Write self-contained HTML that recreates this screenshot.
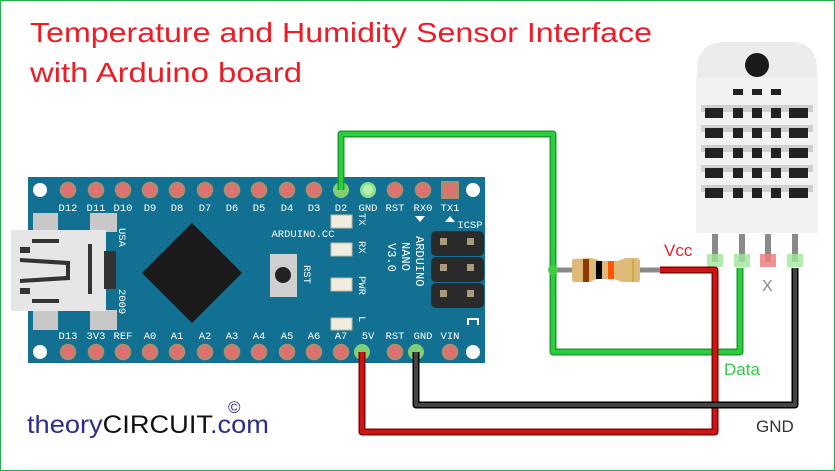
<!DOCTYPE html>
<html><head><meta charset="utf-8"><style>
html,body{margin:0;padding:0;background:#fff}
svg{display:block}
</style></head><body>
<svg width="835" height="471" viewBox="0 0 835 471" xmlns="http://www.w3.org/2000/svg" font-family="'Liberation Sans', sans-serif">
<rect x="0.5" y="0.5" width="834" height="470" fill="#fff" stroke="#22b04b" stroke-width="1"/>
<text x="30" y="42" font-size="28" fill="#ee1c24" textLength="622" lengthAdjust="spacingAndGlyphs">Temperature and Humidity Sensor Interface</text>
<text x="30" y="82" font-size="28" fill="#ee1c24" textLength="272" lengthAdjust="spacingAndGlyphs">with Arduino board</text>

<!-- Board -->
<rect x="28" y="177" width="457" height="186" fill="#127192"/>
<g fill="#fff"><circle cx="40" cy="190" r="7"/><circle cx="473" cy="190" r="7"/><circle cx="40" cy="352" r="7"/><circle cx="473" cy="352" r="7"/></g>
<g fill="#e0706f" stroke="#b58a6a" stroke-width="2.5">
<circle cx="68" cy="190" r="7"/><circle cx="96" cy="190" r="7"/><circle cx="123" cy="190" r="7"/><circle cx="150" cy="190" r="7"/><circle cx="177" cy="190" r="7"/><circle cx="205" cy="190" r="7"/><circle cx="232" cy="190" r="7"/><circle cx="259" cy="190" r="7"/><circle cx="287" cy="190" r="7"/><circle cx="314" cy="190" r="7"/><circle cx="395" cy="190" r="7"/><circle cx="423" cy="190" r="7"/>
<circle cx="68" cy="352" r="7"/><circle cx="96" cy="352" r="7"/><circle cx="123" cy="352" r="7"/><circle cx="150" cy="352" r="7"/><circle cx="177" cy="352" r="7"/><circle cx="205" cy="352" r="7"/><circle cx="232" cy="352" r="7"/><circle cx="259" cy="352" r="7"/><circle cx="287" cy="352" r="7"/><circle cx="314" cy="352" r="7"/><circle cx="341" cy="352" r="7"/><circle cx="395" cy="352" r="7"/><circle cx="450" cy="352" r="7"/>
</g>
<rect x="441" y="181" width="18" height="18" fill="#b5886a"/><circle cx="450" cy="190" r="6" fill="#e0706f"/>
<circle cx="368" cy="190" r="8" fill="#8fe08a"/><circle cx="368" cy="190" r="5" fill="#b7f0b2"/>
<circle cx="341" cy="190" r="8" fill="#7fd070"/>
<circle cx="362" cy="352" r="8" fill="#7fd070"/><circle cx="416" cy="352" r="8" fill="#7fd070"/>
<g font-family="'Liberation Mono', monospace" font-size="10.5" fill="#fff" text-anchor="middle">
<text x="68" y="211">D12</text><text x="96" y="211">D11</text><text x="123" y="211">D10</text><text x="150" y="211">D9</text><text x="177" y="211">D8</text><text x="205" y="211">D7</text><text x="232" y="211">D6</text><text x="259" y="211">D5</text><text x="287" y="211">D4</text><text x="314" y="211">D3</text><text x="341" y="211">D2</text><text x="368" y="211">GND</text><text x="395" y="211">RST</text><text x="423" y="211">RX0</text><text x="450" y="211">TX1</text>
<text x="68" y="339">D13</text><text x="96" y="339">3V3</text><text x="123" y="339">REF</text><text x="150" y="339">A0</text><text x="177" y="339">A1</text><text x="205" y="339">A2</text><text x="232" y="339">A3</text><text x="259" y="339">A4</text><text x="287" y="339">A5</text><text x="314" y="339">A6</text><text x="341" y="339">A7</text><text x="368" y="339">5V</text><text x="395" y="339">RST</text><text x="423" y="339">GND</text><text x="450" y="339">VIN</text>
<text x="303" y="237">ARDUINO.CC</text>
<text x="470" y="228">ICSP</text>
</g>
<polygon points="415,216 425,216 420,222" fill="#fff"/><polygon points="445,222 455,222 450,216" fill="#fff"/>
<g font-family="'Liberation Mono', monospace" font-size="10.5" fill="#fff">
<text transform="translate(119,228) rotate(90)">USA</text>
<text transform="translate(119,289) rotate(90)">2009</text>
<text transform="translate(304,265) rotate(90)">RST</text>
<text transform="translate(359,213) rotate(90)">TX</text>
<text transform="translate(359,241) rotate(90)">RX</text>
<text transform="translate(359,276) rotate(90)">PWR</text>
<text transform="translate(359,316) rotate(90)">L</text>
<text transform="translate(416,236) rotate(90)" font-size="12">ARDUINO</text>
<text transform="translate(402,242) rotate(90)" font-size="12">NANO</text>
<text transform="translate(388,243) rotate(90)" font-size="12">V3.0</text>
</g>
<path d="M468 325 v-6 h10 v6" stroke="#fff" stroke-width="2" fill="none"/>
<!-- USB -->
<g fill="#c8c8c8"><rect x="33" y="213" width="25" height="19"/><rect x="90" y="213" width="27" height="19"/><rect x="33" y="310" width="25" height="20"/><rect x="90" y="310" width="27" height="20"/></g>
<rect x="11" y="230" width="95" height="81" fill="#e6e6e6"/>
<g fill="#333"><rect x="32" y="239" width="27" height="4"/><rect x="32" y="299" width="27" height="4"/><rect x="88" y="244" width="4" height="50"/><rect x="104" y="251" width="12" height="38"/>
<polygon points="20,258 70,261 70,280 20,283 20,279 66,276 66,265 20,262"/><rect x="20" y="247" width="10" height="6"/><rect x="20" y="288" width="10" height="6"/></g>
<!-- chip -->
<polygon points="192,223 242,273 192,323 142,273" fill="#1a1a1a"/>
<rect x="270" y="254" width="27" height="43" fill="#cfcfcf"/><circle cx="283" cy="275" r="8" fill="#222"/>
<g fill="#f0ede0" stroke="#c8b89a"><rect x="331" y="215" width="21" height="13"/><rect x="331" y="243" width="21" height="13"/><rect x="331" y="278" width="21" height="13"/><rect x="331" y="318" width="21" height="12"/></g>
<g fill="#2a2a2a"><rect x="431" y="231" width="53" height="25" rx="5"/><rect x="431" y="257" width="53" height="25" rx="5"/><rect x="431" y="283" width="53" height="25" rx="5"/></g>
<g fill="#a89a7a"><rect x="440" y="238" width="7" height="7"/><rect x="467" y="238" width="7" height="7"/><rect x="440" y="264" width="7" height="7"/><rect x="467" y="264" width="7" height="7"/><rect x="440" y="290" width="7" height="7"/><rect x="467" y="290" width="7" height="7"/></g>

<!-- Sensor -->
<path d="M697 70 Q697 42 725 42 L790 42 Q817 42 817 70 L817 233 L697 233 Z" fill="#ececec"/>
<rect x="696" y="78" width="122" height="155" fill="#f2f2f2"/>
<circle cx="757" cy="65" r="12" fill="#1a1a1a"/>
<g fill="#d0d0d0"><rect x="701" y="105" width="112" height="7"/><rect x="701" y="125" width="112" height="7"/><rect x="701" y="145" width="112" height="7"/><rect x="701" y="165" width="112" height="7"/><rect x="701" y="185" width="112" height="7"/></g>
<g fill="#222">
<rect x="733" y="89" width="10" height="6"/><rect x="752" y="89" width="10" height="6"/><rect x="771" y="89" width="10" height="6"/>
<rect x="705" y="108" width="18" height="10"/><rect x="733" y="108" width="10" height="10"/><rect x="752" y="108" width="10" height="10"/><rect x="771" y="108" width="10" height="10"/><rect x="789" y="108" width="19" height="10"/>
<rect x="705" y="128" width="18" height="10"/><rect x="733" y="128" width="10" height="10"/><rect x="752" y="128" width="10" height="10"/><rect x="771" y="128" width="10" height="10"/><rect x="789" y="128" width="19" height="10"/>
<rect x="705" y="148" width="18" height="10"/><rect x="733" y="148" width="10" height="10"/><rect x="752" y="148" width="10" height="10"/><rect x="771" y="148" width="10" height="10"/><rect x="789" y="148" width="19" height="10"/>
<rect x="705" y="168" width="18" height="10"/><rect x="733" y="168" width="10" height="10"/><rect x="752" y="168" width="10" height="10"/><rect x="771" y="168" width="10" height="10"/><rect x="789" y="168" width="19" height="10"/>
<rect x="705" y="188" width="18" height="10"/><rect x="733" y="188" width="10" height="10"/><rect x="752" y="188" width="10" height="10"/><rect x="771" y="188" width="10" height="10"/><rect x="789" y="188" width="19" height="10"/>
</g>
<g fill="#8a8a8a"><rect x="712" y="234" width="6" height="28"/><rect x="739" y="234" width="6" height="28"/><rect x="765" y="234" width="6" height="28"/><rect x="792" y="234" width="6" height="28"/></g>
<g fill="#9ee89a" opacity="0.8"><rect x="707" y="254" width="16" height="13"/><rect x="734" y="254" width="16" height="13"/><rect x="787" y="254" width="16" height="13"/></g>
<rect x="760" y="254" width="16" height="13" fill="#f08080" opacity="0.85"/>

<!-- wires -->
<polyline points="341,190 341,134 553,134 553,352 740,352 740,268" fill="none" stroke="#1a9e2a" stroke-width="7" stroke-linejoin="round"/>
<polyline points="341,190 341,134 553,134 553,352 740,352 740,268" fill="none" stroke="#2ecc40" stroke-width="4" stroke-linejoin="round"/>
<line x1="553" y1="270" x2="575" y2="270" stroke="#8a8a8a" stroke-width="5"/>
<line x1="638" y1="270" x2="660" y2="270" stroke="#8a8a8a" stroke-width="5"/>
<circle cx="553" cy="270" r="5" fill="#40d040"/>
<polyline points="660,270 715,270 715,432 362,432 362,352" fill="none" stroke="#8b0000" stroke-width="7" stroke-linejoin="round"/>
<polyline points="660,270 715,270 715,432 362,432 362,352" fill="none" stroke="#cc1515" stroke-width="4" stroke-linejoin="round"/>
<polyline points="416,352 416,405 795,405 795,268" fill="none" stroke="#000" stroke-width="7" stroke-linejoin="round"/>
<polyline points="416,352 416,405 795,405 795,268" fill="none" stroke="#444" stroke-width="4" stroke-linejoin="round"/>
<!-- resistor -->
<path d="M574 259 Q572 258 572 262 L572 279 Q572 282 575 282 L590 282 Q595 279 600 279 L615 279 Q620 282 625 282 L638 282 Q640 282 640 279 L640 262 Q640 258 637 258 L625 258 Q620 261 615 261 L600 261 Q595 258 590 258 Z" fill="#deb97a"/>
<rect x="583" y="259" width="6" height="23" fill="#8a3c00"/><rect x="596" y="261" width="6" height="18" fill="#000"/><rect x="608" y="261" width="6" height="18" fill="#ff5500"/><rect x="632" y="259" width="2" height="23" fill="#c8b040"/>

<text x="664" y="256" font-size="17" fill="#ee1c24">Vcc</text>
<text x="724" y="375" font-size="17" fill="#2ecc40">Data</text>
<text x="762" y="291" font-size="16" fill="#888">X</text>
<text x="756" y="432" font-size="17" fill="#333">GND</text>
<text x="27" y="433" font-size="25" fill="#2e2e8a" textLength="242" lengthAdjust="spacingAndGlyphs"><tspan>theory</tspan><tspan fill="#111">CIRCUIT</tspan><tspan>.com</tspan></text>
<text x="228" y="413" font-size="17" fill="#2e2e8a">©</text>
</svg>
</body></html>
